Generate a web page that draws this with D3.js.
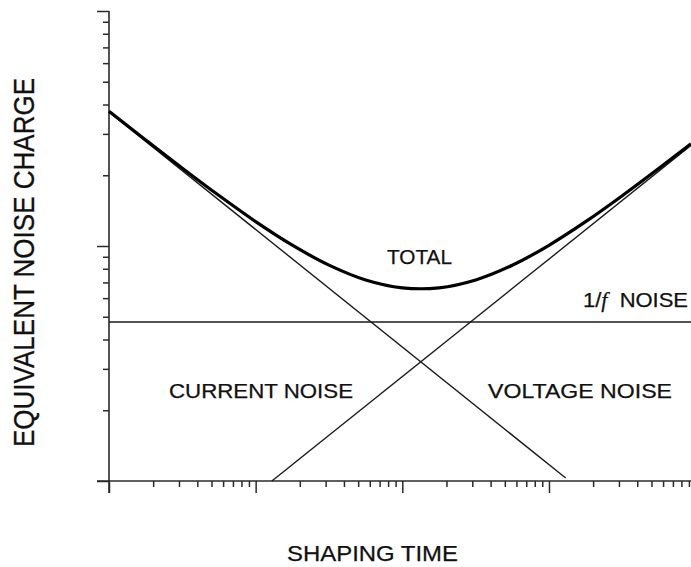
<!DOCTYPE html>
<html>
<head>
<meta charset="utf-8">
<script src="https://cdn.jsdelivr.net/npm/d3@7/dist/d3.min.js"></script>
<style>
  html, body { margin: 0; padding: 0; background: #fff; }
  svg { display: block; }
  text { font-family: "Liberation Sans", Arial, sans-serif; fill: #111; }
</style>
</head>
<body>
<svg id="chart" width="691" height="567"></svg>
<script>
// ---- data (log-log, arbitrary units) ----
const xMajorTicks = [1, 10, 100, 1000];
const xMinorTicks = [2,3,4,5,6,7,8,9, 20,30,40,50,60,70,80,90, 200,300,400,500,600,700,800,900, 2000,3000,4000,5000,6000,7000,8000,9000];
const yMajorTicks = [1, 10, 100];
const yMinorTicks = [2,3,4,5,6,7,8,9, 20,30,40,50,60,70,80,90];

const currentNoise = [[1, 37.2], [1300, 1.03]];
const voltageNoise = [[12.9, 1.0], [9300, 26.8]];
const oneOverFNoise = [[1, 4.75], [9300, 4.75]];
const totalX = [1, 1.778, 3.162, 5.623, 10, 17.78, 31.62, 56.23, 100, 177.8, 316.2, 562.3, 1000, 1778, 3162, 5623, 9300];
const totalY = [37.45, 28.27, 21.43, 16.39, 12.70, 10.08, 8.29, 7.17, 6.64, 6.64, 7.17, 8.28, 10.07, 12.69, 16.37, 21.41, 27.24];

const labels = [
  { text: "TOTAL", x: 387, y: 264, len: 65, size: 20 },
  { text: "CURRENT NOISE", x: 169, y: 398, len: 184, size: 20 },
  { text: "VOLTAGE NOISE", x: 488, y: 398, len: 184, size: 20 },
  { text: "SHAPING TIME", x: 287, y: 561, len: 171, size: 22 }
];

// ---- scales ----
const svg = d3.select("#chart");
const x = d3.scaleLog().domain([1, 9300]).range([109, 691]);
const y = d3.scaleLog().domain([1, 100]).range([481, 11]);

const axisColor = "#2a2a2a";

// axes lines
svg.append("line")
  .attr("x1", x(1) - 12).attr("x2", x.range()[1])
  .attr("y1", y(1)).attr("y2", y(1))
  .attr("stroke", axisColor).attr("stroke-width", 1.6);
svg.append("line")
  .attr("x1", x(1)).attr("x2", x(1))
  .attr("y1", y(100)).attr("y2", y(1) + 12)
  .attr("stroke", axisColor).attr("stroke-width", 1.6);

function styleAxis(g) {
  g.select(".domain").remove();
  g.selectAll(".tick line").attr("stroke", axisColor).attr("stroke-width", 1.5);
  g.selectAll(".tick text").remove();
}

svg.append("g").attr("transform", `translate(0,${y(1)})`)
  .call(d3.axisBottom(x).tickValues(xMajorTicks).tickSize(12).tickFormat(""))
  .call(styleAxis);
svg.append("g").attr("transform", `translate(0,${y(1)})`)
  .call(d3.axisBottom(x).tickValues(xMinorTicks).tickSize(6).tickFormat(""))
  .call(styleAxis);
svg.append("g").attr("transform", `translate(${x(1)},0)`)
  .call(d3.axisLeft(y).tickValues(yMajorTicks).tickSize(12).tickFormat(""))
  .call(styleAxis);
svg.append("g").attr("transform", `translate(${x(1)},0)`)
  .call(d3.axisLeft(y).tickValues(yMinorTicks).tickSize(6).tickFormat(""))
  .call(styleAxis);

// ---- lines ----
const line = d3.line().x(d => x(d[0])).y(d => y(d[1]));
[currentNoise, voltageNoise, oneOverFNoise].forEach(s => {
  svg.append("path").attr("d", line(s))
    .attr("fill", "none").attr("stroke", "#1a1a1a").attr("stroke-width", 1.4);
});
const totalData = totalX.map((v, i) => [v, totalY[i]]);
svg.append("path")
  .attr("d", d3.line().x(d => x(d[0])).y(d => y(d[1])).curve(d3.curveCatmullRom)(totalData))
  .attr("fill", "none").attr("stroke", "#000").attr("stroke-width", 3.2);

// ---- text ----
labels.forEach(l => {
  svg.append("text")
    .attr("x", l.x).attr("y", l.y)
    .attr("font-size", l.size)
    .attr("textLength", l.len)
    .attr("lengthAdjust", "spacingAndGlyphs")
    .attr("stroke", "#111").attr("stroke-width", 0.25)
    .text(l.text);
});
svg.append("text")
  .attr("x", 583).attr("y", 307)
  .attr("font-size", 20)
  .attr("textLength", 105)
  .attr("lengthAdjust", "spacingAndGlyphs")
  .attr("stroke", "#111").attr("stroke-width", 0.25)
  .html('1/<tspan font-style="italic" font-family="Liberation Serif, serif">f</tspan>\u00a0 NOISE');

// y label (slightly widened glyphs as in the original)
svg.append("g")
  .attr("transform", "translate(34,447) scale(1.15,1)")
  .append("text")
  .attr("transform", "rotate(-90)")
  .attr("x", 0).attr("y", 0)
  .attr("font-size", 26)
  .attr("textLength", 369)
  .attr("lengthAdjust", "spacingAndGlyphs")
  .attr("stroke", "#111").attr("stroke-width", 0.25)
  .text("EQUIVALENT NOISE CHARGE");
</script>
</body>
</html>
